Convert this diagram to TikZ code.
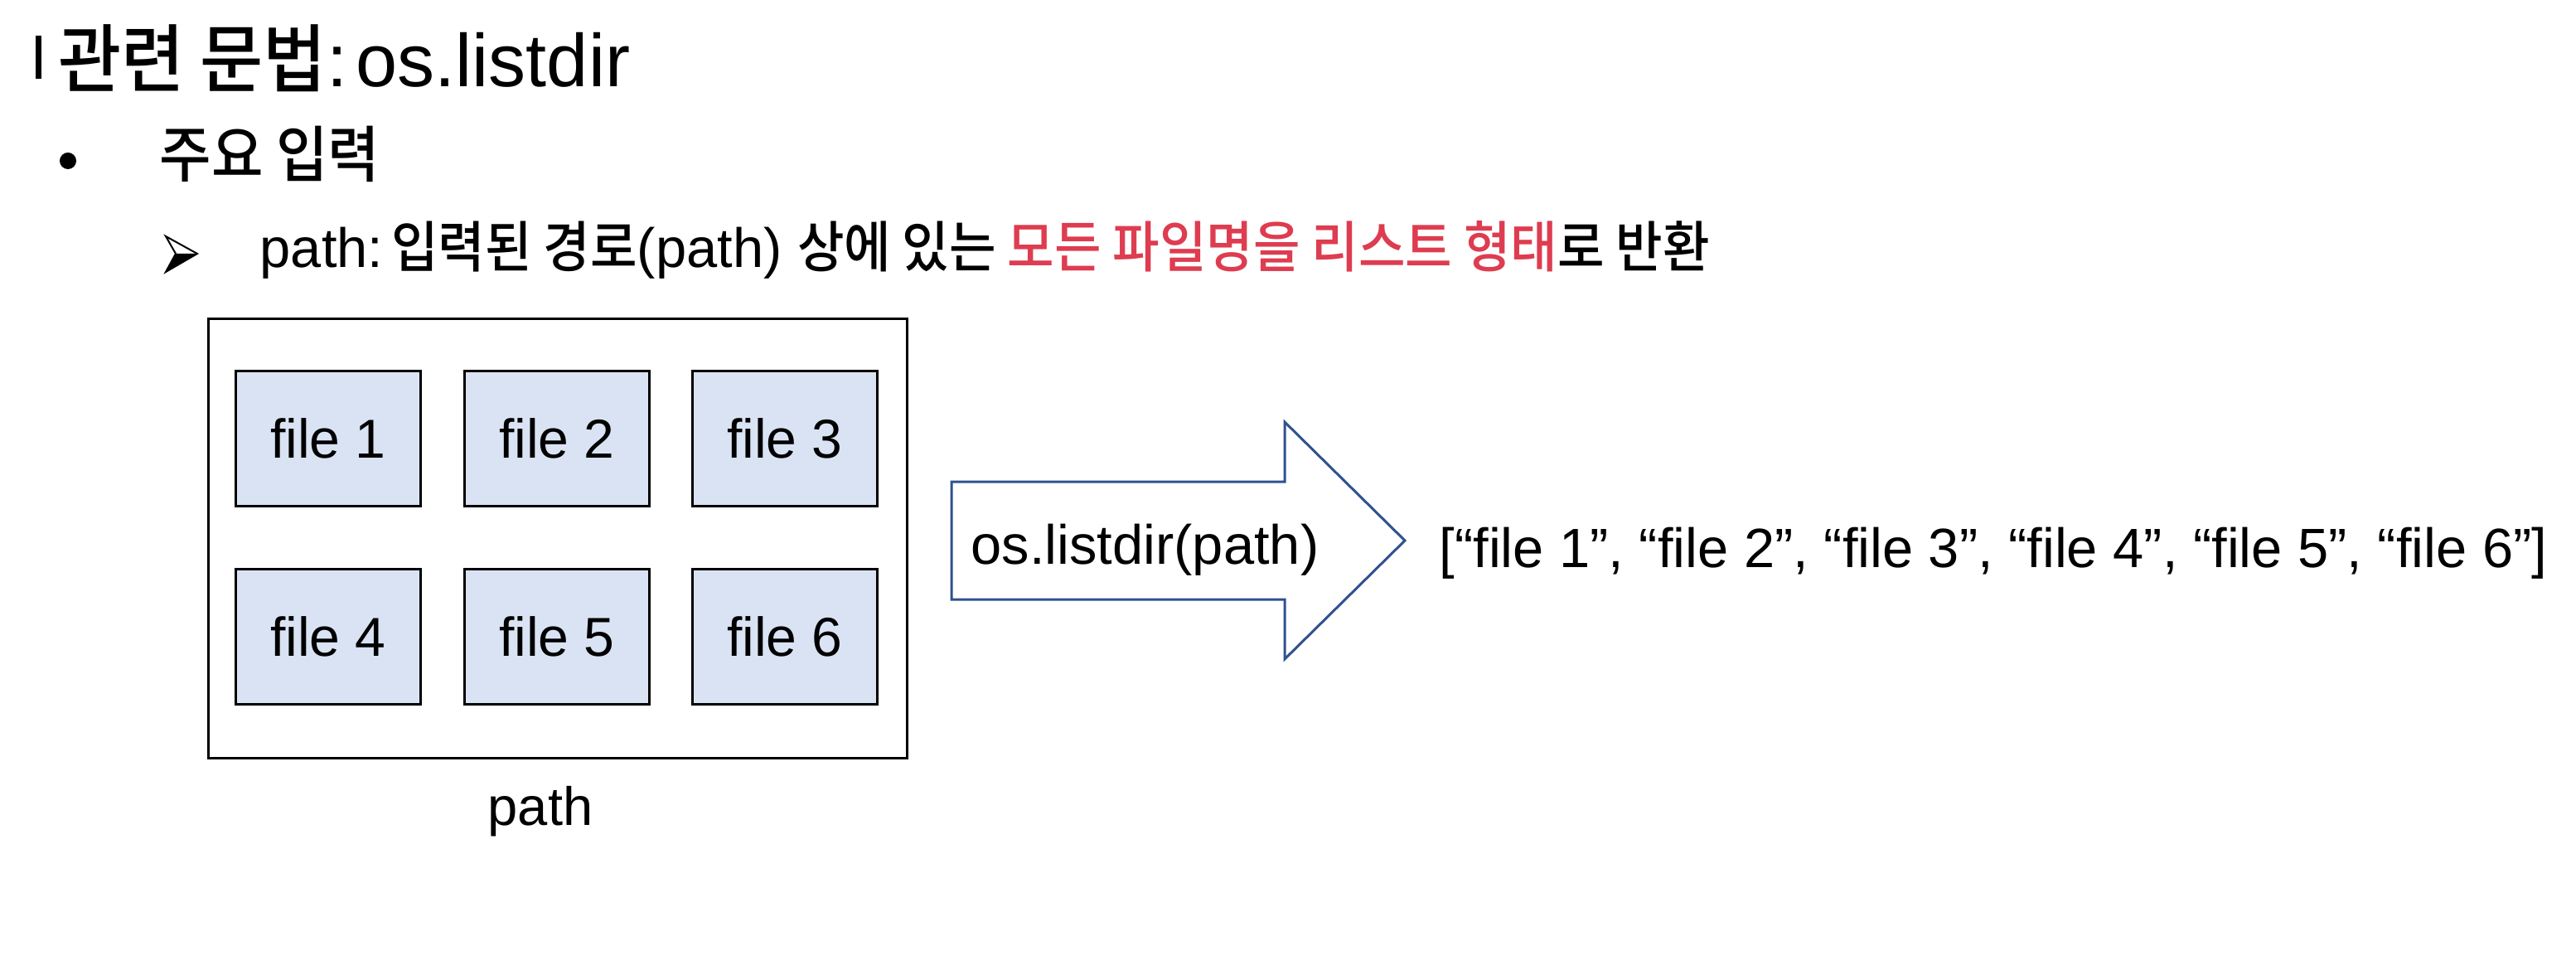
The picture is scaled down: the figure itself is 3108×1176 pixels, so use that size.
\documentclass[tikz,border=0pt]{standalone}
\usepackage{fontspec}
\setmainfont{Liberation Sans}
\newfontfamily\kr[FakeStretch=0.92, UprightFont={* Medium}]{Noto Sans CJK KR}
\definecolor{accent}{RGB}{222,60,80}
\definecolor{filefill}{RGB}{218,227,243}
\definecolor{arrowblue}{RGB}{47,82,143}

\begin{document}
\begin{tikzpicture}[x=0.01cm,y=-0.01cm,
  txt/.style={inner sep=0pt, anchor=base west},
  filebox/.style={draw=black, line width=0.03cm, fill=filefill,
    minimum width=2.22cm, minimum height=1.62cm, inner sep=0pt,
    font=\fontsize{18.8}{22}\selectfont},
  outerbox/.style={draw=black, line width=0.03cm, fill=white,
    minimum width=8.42cm, minimum height=5.29cm, inner sep=0pt},
  bigarrow/.style={draw=arrowblue, line width=0.03cm, fill=white, line join=miter},
]
\useasboundingbox (0,0) rectangle (3108,1176);
\fill[white] (0,0) rectangle (3108,1176);

% heading with its marker bar
\fill (43,43) rectangle (50,95);
\node[txt, font=\fontsize{25.6}{30}\selectfont] (title) at (70,105)
  {{\kr 관련 문법}:\hspace{0.12em}os.listdir};

% first-level bullet
\node[circle, fill=black, minimum size=0.2cm, inner sep=0pt] (dot) at (82,194) {};
\node[txt, font=\fontsize{21}{25}\selectfont] (main) at (192,214) {\kr 주요 입력};

% second-level pointer
\fill[black] (212,306) -- (238,306) -- (200,328) -- cycle;
\draw[black, line width=0.02cm, line join=miter] (200,285) -- (238,306) -- (200,328) -- (212,306) -- cycle;
\node[txt, font=\fontsize{19}{23}\selectfont] (desc) at (313,323)
  {path:\hspace{0.15em}{\kr 입력된 경로}(path) {\kr 상에 있는 \textcolor{accent}{모든 파일명을 리스트 형태}로 반환}};

% directory with its files
\node[outerbox] (dir) at (673,649.5) {};
\node[filebox] (f1) at (396,529) {file 1};
\node[filebox] (f2) at (672,529) {file 2};
\node[filebox] (f3) at (947,529) {file 3};
\node[filebox] (f4) at (396,768) {file 4};
\node[filebox] (f5) at (672,768) {file 5};
\node[filebox] (f6) at (947,768) {file 6};
\node[anchor=base, inner sep=0pt, font=\fontsize{18.5}{22}\selectfont] (dirlabel) at (652,995) {path};

% block arrow with the call
\draw[bigarrow] (1148,581) -- (1550,581) -- (1550,509) -- (1695,652)
  -- (1550,795) -- (1550,723) -- (1148,723) -- cycle;
\node[txt, font=\fontsize{19}{23}\selectfont] (call) at (1171,680) {os.listdir(path)};

% resulting list
\node[txt, font=\fontsize{19}{23}\selectfont] (result) at (1736,684)
  {[“file 1”, “file 2”, “file 3”, “file 4”, “file 5”, “file 6”]};
\end{tikzpicture}
\end{document}
